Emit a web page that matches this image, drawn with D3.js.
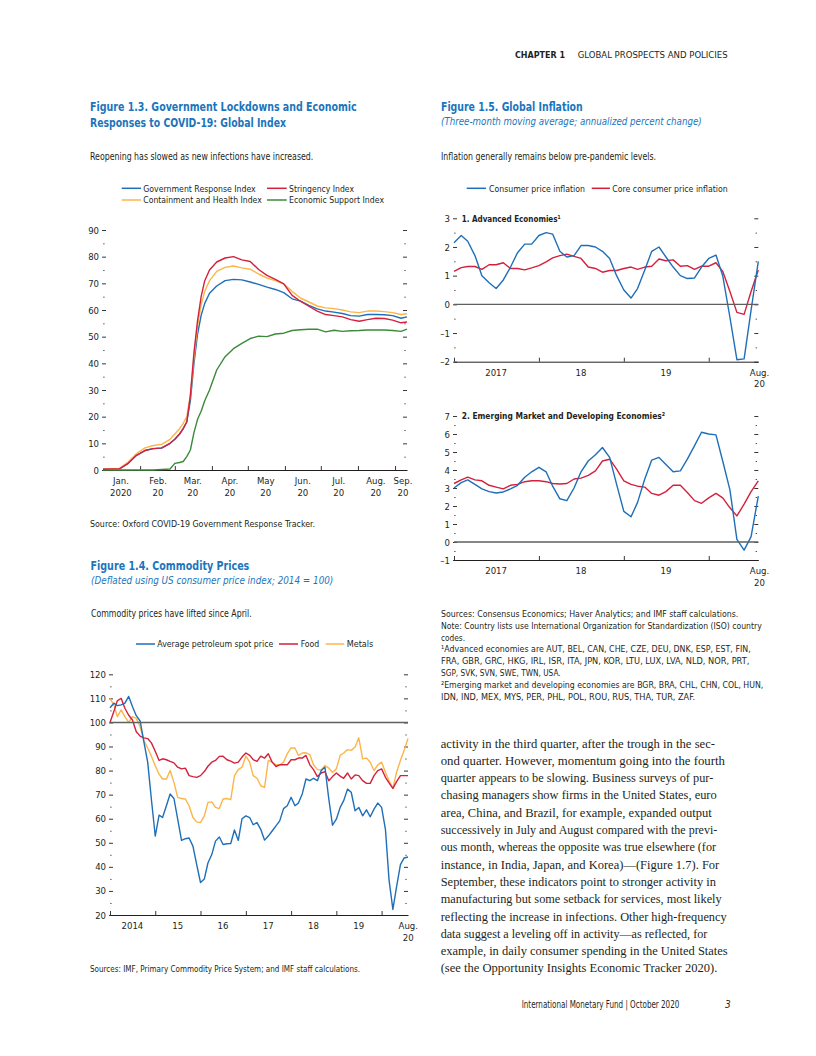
<!DOCTYPE html>
<html><head><meta charset="utf-8">
<script src="https://cdn.jsdelivr.net/npm/d3@7"></script>
<style>body{margin:0;background:#fff}</style>
</head><body>
<svg id="page" width="816" height="1056"></svg>
<script>
// ---------- Figure 1.3 data ----------
const lockdownDates = ["2020-01-01","2020-01-15","2020-01-22","2020-01-29","2020-02-05","2020-02-12","2020-02-19","2020-02-26","2020-03-01","2020-03-05","2020-03-08","2020-03-11","2020-03-14","2020-03-17","2020-03-20","2020-03-23","2020-03-26","2020-03-30","2020-04-05","2020-04-12","2020-04-19","2020-04-26","2020-05-03","2020-05-10","2020-05-17","2020-05-24","2020-05-31","2020-06-07","2020-06-14","2020-06-21","2020-06-28","2020-07-05","2020-07-12","2020-07-19","2020-07-26","2020-08-02","2020-08-09","2020-08-16","2020-08-23","2020-08-30","2020-09-06","2020-09-11"];
const govResponse = [0.3,0.5,2.5,5.5,7.3,8,8.2,10,11.5,13.5,15.5,18,26,40,51,58,62.5,66.3,69,71,71.5,71.3,70.5,69.6,68.6,67.7,66.5,64.2,63.3,61.7,60.4,59.6,59.2,58.7,57.9,57.7,58.3,58.3,58.2,57.9,56.9,57.4];
const stringency = [0.3,0.5,2.5,5.5,7.3,8,8.3,10,11.5,13.5,15.5,18,28,44,56,65,71,75,78,79.5,80,78.8,78.2,75.2,73,71.5,69.8,65.5,63.3,61.4,59.6,58.3,57.9,57.4,56.4,55.8,56.4,56.9,56.8,56.2,55.2,55.5];
const containment = [0.3,0.6,3,6.2,8.3,9.2,9.6,11.5,13.5,15.5,17.5,20,28,42,54,62,67,71,74.5,76,76.5,75.8,75.3,73.5,72,71,69.8,67,64.5,63,61.5,60.8,60.5,60,59.3,59,59.6,59.6,59.4,59,58.3,58.6];
const econSupport = [0,0,0,0,0,0,0.2,0.4,2.5,2.8,3.2,5,7.5,14,19,22,26,30,37.5,42.5,45.5,47.5,49.3,50.2,50,51,51.3,52.3,52.6,52.8,52.8,51.8,52.4,52,52.2,52.3,52.5,52.5,52.5,52.3,52,52.8];
const lockdownMonthLabels = ["Jan.","Feb.","Mar.","Apr.","May","Jun.","Jul.","Aug.","Sep."];
const lockdownYearLabels = ["2020","20","20","20","20","20","20","20","20"];

// ---------- Figure 1.4 data (monthly, Jan 2014 - Aug 2020) ----------
const petroleum = [106.1,108,107,107.3,108,110.8,106.6,102.8,100.6,92,83.5,68,
 52.8,61.5,60.5,65.4,70.3,68.4,59.8,51,51.7,52,48.6,41,
 33.5,35,41.6,45.1,50.7,52.4,49.3,49.6,49.7,55.3,51,60,
 61.2,60.5,57.5,58.4,55.6,51.1,52.8,54.9,57,59.1,64.2,65.4,
 68.9,65.4,66.5,70.3,76.5,75.8,76.8,75.8,80,81.4,68.2,57.3,
 59.8,64.7,67.5,72.3,71,63.3,64.7,61.2,63.7,60.8,64,66.5,
 64.7,55.6,34.6,22.3,31.8,40.9,43.7,44.1];
const food = [100,104.5,109,110,105.9,103,101,96.1,94.3,93.6,93.3,91.5,
 88,84.2,84.9,84.5,83.8,83.2,81.4,80.7,81,77.9,77.5,77.2,
 77.9,79.6,81.8,83.5,84.2,85.9,86,84.5,83.9,83.1,83.5,85.6,
 87.3,86.3,84.6,83.8,86,85.2,87,83.5,81.7,82.4,82.4,82.4,
 84.5,84.5,85.2,85.2,86.3,82.4,80.4,77.5,79,79.6,75.8,77.5,
 79,77.7,76.8,79,76.5,78.2,77.9,75.8,74.7,74.7,77.9,80,
 80.7,77.2,74.9,72.6,75.4,77.9,77.9,77.9];
const metals = [110,107.3,102.4,105.2,102.4,100,102.4,101.7,98.2,92.6,89.4,86,
 82,78.5,76.5,76.5,80,75.1,68.9,68.4,68.2,65.4,60.5,58.7,
 58.4,61.2,66.8,67,64.7,64.2,68.2,68.4,67.9,77.9,80.4,81.4,
 86,83.5,77.9,76.8,73.7,73,84.2,83.5,82.4,82.4,83.5,87,
 89.4,89.4,86.3,87.3,87.4,86.6,82.4,80.4,80.3,82.1,81,79.3,
 80.7,86.3,87.3,88.7,88.4,89.8,93.6,84.9,85.2,83.5,80,82.4,
 83.5,79.3,75.8,72.6,79.3,84.2,88.4,93.3];
const commodityYearLabels = ["2014","15","16","17","18","19"];

// ---------- Figure 1.5 data (monthly, Jan 2017 - Aug 2020) ----------
const aeCPI = [2.15,2.4,2.2,1.7,1.0,0.75,0.55,0.85,1.3,1.8,2.1,2.1,
 2.4,2.5,2.45,1.85,1.65,1.7,2.05,2.05,2.0,1.85,1.6,1.0,
 0.5,0.22,0.55,1.2,1.85,2.0,1.65,1.3,1.0,0.9,0.92,1.3,
 1.6,1.72,1.0,-0.45,-1.93,-1.9,-0.2,1.5];
const aeCore = [1.15,1.28,1.32,1.32,1.22,1.38,1.38,1.45,1.25,1.25,1.2,1.27,
 1.35,1.48,1.62,1.7,1.75,1.67,1.6,1.3,1.25,1.12,1.18,1.18,
 1.25,1.3,1.22,1.3,1.33,1.58,1.52,1.55,1.33,1.35,1.22,1.33,
 1.33,1.45,1.15,0.45,-0.28,-0.35,0.45,1.2];
const emCPI = [3.0,3.3,3.45,3.2,2.95,2.8,2.72,2.78,2.95,3.15,3.6,3.9,
 4.15,3.9,3.1,2.4,2.3,3.0,3.9,4.5,4.85,5.25,4.7,3.2,
 1.7,1.4,2.2,3.5,4.55,4.7,4.3,3.9,3.95,4.6,5.35,6.1,
 6.0,5.95,4.5,2.9,0.15,-0.45,0.3,2.55];
const emCore = [3.25,3.45,3.6,3.45,3.4,3.15,3.05,2.95,3.15,3.2,3.35,3.4,
 3.4,3.35,3.25,3.22,3.25,3.5,3.55,3.7,3.95,4.5,4.6,4.05,
 3.4,3.2,3.1,3.05,2.7,2.6,2.8,3.15,3.15,2.75,2.3,2.15,
 2.45,2.7,2.45,1.9,1.45,2.1,2.8,3.4];
const inflationYearLabels = ["2017","18","19"];

// ---------- styling ----------
const SANS = "'Liberation Sans Narrow','Arial Narrow','DejaVu Sans Condensed',Roboto,sans-serif";
const SERIF = "'Liberation Serif','DejaVu Serif',serif";
const BLUE = "#1f6fb8", RED = "#d3213d", ORANGE = "#fcb548", GREEN = "#3b8a3a", TITLE = "#1b75bc", INK = "#231f20";
const parse = d3.timeParse("%Y-%m-%d");

const svg = d3.select("#page");
svg.append("rect").attr("width", 816).attr("height", 1056).attr("fill", "#fff");

function txt(x, y, s, o = {}) {
  const t = svg.append("text").attr("x", x).attr("y", y).text(s)
    .attr("font-family", o.family || SANS).attr("font-size", o.size || 9.5)
    .attr("fill", o.fill || INK);
  if (o.weight) t.attr("font-weight", o.weight);
  if (o.style) t.attr("font-style", o.style);
  if (o.anchor) t.attr("text-anchor", o.anchor);
  if (o.ls) t.attr("letter-spacing", o.ls);
  if (o.width) t.attr("textLength", o.width).attr("lengthAdjust", "spacingAndGlyphs");
  return t;
}
function legendItem(x1, x2, y, color, label, tx, tw) {
  svg.append("line").attr("x1", x1).attr("x2", x2).attr("y1", y).attr("y2", y)
    .attr("stroke", color).attr("stroke-width", 1.5);
  txt(tx, y + 3.3, label, { size: 9.5, width: tw });
}
function yAxes(y, left, right, majors, minors, fmt) {
  const g = svg.append("g");
  g.append("g").attr("transform", `translate(${left + 3},0)`)
    .call(d3.axisLeft(y).tickValues(majors).tickSize(4).tickPadding(3).tickFormat(fmt));
  g.append("g").attr("transform", `translate(${left + 1.5},0)`)
    .call(d3.axisLeft(y).tickValues(minors).tickSize(1.2).tickFormat(""));
  g.append("g").attr("transform", `translate(${right - 4},0)`)
    .call(d3.axisRight(y).tickValues(majors).tickSize(4).tickFormat(""));
  g.append("g").attr("transform", `translate(${right - 2.6},0)`)
    .call(d3.axisRight(y).tickValues(minors).tickSize(1.2).tickFormat(""));
  g.selectAll(".domain").remove();
  g.selectAll("line").attr("stroke", INK).attr("stroke-width", 0.9);
  g.selectAll("text").attr("font-family", SANS).attr("font-size", 9.5).attr("fill", INK);
}
function xAxis(x, yPos, tickVals) {
  const g = svg.append("g").attr("transform", `translate(0,${yPos})`)
    .call(d3.axisBottom(x).tickValues(tickVals).tickSize(-4).tickSizeOuter(0).tickFormat(""));
  g.select(".domain").attr("stroke", INK).attr("stroke-width", 1);
  g.selectAll(".tick line").attr("stroke", INK).attr("stroke-width", 0.9);
}
function drawLine(data, x, y, color) {
  svg.append("path").datum(data)
    .attr("fill", "none").attr("stroke", color).attr("stroke-width", 1.4)
    .attr("stroke-linejoin", "round")
    .attr("d", d3.line().x(d => x(d.date)).y(d => y(d.v)));
}
function hRule(x, y, v) {
  svg.append("line").attr("x1", x.range()[0]).attr("x2", x.range()[1])
    .attr("y1", y(v)).attr("y2", y(v)).attr("stroke", "#5f5f5f").attr("stroke-width", 1.4);
}
const dash = d => (d < 0 ? "\u2013" + Math.abs(d) : String(d));

// ---------- header ----------
txt(515, 57.5, "CHAPTER 1", { size: 9.5, weight: "bold", width: 50 });
txt(577.7, 57.5, "GLOBAL PROSPECTS AND POLICIES", { size: 9.5, width: 150 });

// ================= Figure 1.3 =================
txt(90, 111, "Figure 1.3.  Government Lockdowns and Economic", { size: 12.5, weight: "bold", fill: TITLE, width: 266.7 });
txt(90, 126.7, "Responses to COVID-19: Global Index", { size: 12.5, weight: "bold", fill: TITLE, width: 196 });
txt(90, 160, "Reopening has slowed as new infections have increased.", { size: 10, width: 223.3 });
legendItem(121.7, 141, 188.3, BLUE, "Government Response Index", 143.3, 112.4);
legendItem(267, 286.7, 188.3, RED, "Stringency Index", 289, 65);
legendItem(121.7, 141, 200, ORANGE, "Containment and Health Index", 143.3, 118.4);
legendItem(267, 286.7, 200, GREEN, "Economic Support Index", 289, 95);

{
  const dates = lockdownDates.map(parse);
  const x = d3.scaleTime().domain([parse("2020-01-01"), parse("2020-09-11")]).range([103, 407]);
  const y = d3.scaleLinear().domain([0, 90]).range([470, 230]);
  yAxes(y, 103, 407, d3.range(0, 91, 10), d3.range(5, 90, 10), d => d);
  const monthStarts = d3.range(1, 9).map(m => new Date(2020, m, 1));
  xAxis(x, 470, monthStarts);
  lockdownMonthLabels.forEach((lab, i) => {
    const cx = i < 8 ? x(new Date(2020, i, 16)) : 403;
    txt(cx, 484, lab, { anchor: "middle" });
    txt(cx, 495.5, lockdownYearLabels[i], { anchor: "middle" });
  });
  const mk = arr => arr.map((v, i) => ({ date: dates[i], v }));
  drawLine(mk(econSupport), x, y, GREEN);
  drawLine(mk(govResponse), x, y, BLUE);
  drawLine(mk(containment), x, y, ORANGE);
  drawLine(mk(stringency), x, y, RED);
}
txt(90, 526.8, "Source: Oxford COVID-19 Government Response Tracker.", { size: 9.5, width: 225 });

// ================= Figure 1.4 =================
txt(90.5, 570, "Figure 1.4.  Commodity Prices", { size: 12.5, weight: "bold", fill: TITLE, width: 158.8 });
txt(91, 584, "(Deflated using US consumer price index; 2014 = 100)", { size: 11, style: "italic", fill: TITLE, width: 242.3 });
txt(91, 616.8, "Commodity prices have lifted since April.", { size: 10, width: 160.7 });
legendItem(136, 155, 644, BLUE, "Average petroleum spot price", 157.3, 116);
legendItem(279, 298, 644, RED, "Food", 300.7, 18.6);
legendItem(325.7, 344.3, 644, ORANGE, "Metals", 346.7, 26.6);
{
  const months = d3.timeMonths(new Date(2014, 0, 1), new Date(2020, 7, 2));
  const x = d3.scaleTime().domain([months[0], months[months.length - 1]]).range([110, 408]);
  const y = d3.scaleLinear().domain([20, 120]).range([915, 674.3]);
  yAxes(y, 110, 408, d3.range(20, 121, 10), d3.range(25, 120, 10), d => d);
  xAxis(x, 915, d3.range(2014, 2021).map(yr => new Date(yr, 0, 1)));
  commodityYearLabels.forEach((lab, i) => txt(x(new Date(2014 + i, 6, 1)), 929, lab, { anchor: "middle" }));
  txt(408.3, 929, "Aug.", { anchor: "middle" });
  txt(408.3, 940.5, "20", { anchor: "middle" });
  const mk = arr => arr.map((v, i) => ({ date: months[i], v }));
  drawLine(mk(metals), x, y, ORANGE);
  drawLine(mk(food), x, y, RED);
  drawLine(mk(petroleum), x, y, BLUE);
  hRule(x, y, 100);
}
txt(90, 971.5, "Sources: IMF, Primary Commodity Price System; and IMF staff calculations.", { size: 9.5, width: 270 });

// ================= Figure 1.5 =================
txt(441, 111, "Figure 1.5.  Global Inflation", { size: 12.5, weight: "bold", fill: TITLE, width: 141.7 });
txt(441, 124.5, "(Three-month moving average; annualized percent change)", { size: 11, style: "italic", fill: TITLE, width: 260.7 });
txt(441, 160, "Inflation generally remains below pre-pandemic levels.", { size: 10, width: 215 });
legendItem(466.7, 486, 188.3, BLUE, "Consumer price inflation", 489, 96);
legendItem(591.7, 610, 188.3, RED, "Core consumer price inflation", 612.3, 115.4);
{
  const months = d3.timeMonths(new Date(2017, 0, 1), new Date(2020, 7, 2));
  const x = d3.scaleTime().domain([months[0], months[months.length - 1]]).range([454, 758.3]);
  const ticks = d3.range(2017, 2021).map(yr => new Date(yr, 0, 1));
  const mk = arr => arr.map((v, i) => ({ date: months[i], v }));

  // Panel 1
  const y1 = d3.scaleLinear().domain([-2, 3]).range([361.7, 218.3]);
  yAxes(y1, 454, 758.3, d3.range(-2, 4, 1), [-1.5, -0.5, 0.5, 1.5, 2.5], dash);
  xAxis(x, 361.7, ticks);
  txt(461.7, 221.6, "1. Advanced Economies\u00B9", { size: 9.5, weight: "bold", width: 99 });
  inflationYearLabels.forEach((lab, i) => txt(x(new Date(2017 + i, 6, 1)), 375.5, lab, { anchor: "middle" }));
  txt(759.5, 375.5, "Aug.", { anchor: "middle" });
  txt(759.5, 386.5, "20", { anchor: "middle" });
  drawLine(mk(aeCore), x, y1, RED);
  drawLine(mk(aeCPI), x, y1, BLUE);
  hRule(x, y1, 0);

  // Panel 2
  const y2 = d3.scaleLinear().domain([-1, 7]).range([560, 416]);
  yAxes(y2, 454, 758.3, d3.range(-1, 8, 1), d3.range(-0.5, 7, 1), dash);
  xAxis(x, 560, ticks);
  txt(461.7, 419.3, "2. Emerging Market and Developing Economies\u00B2", { size: 9.5, weight: "bold", width: 203.3 });
  inflationYearLabels.forEach((lab, i) => txt(x(new Date(2017 + i, 6, 1)), 574, lab, { anchor: "middle" }));
  txt(759.5, 574, "Aug.", { anchor: "middle" });
  txt(759.5, 585.5, "20", { anchor: "middle" });
  drawLine(mk(emCore), x, y2, RED);
  drawLine(mk(emCPI), x, y2, BLUE);
  hRule(x, y2, 0);
}

// notes
const notes = [
  ["Sources: Consensus Economics; Haver Analytics; and IMF staff calculations.", 297.3],
  ["Note: Country lists use International Organization for Standardization (ISO) country", 320.7],
  ["codes.", 24],
  ["\u00B9Advanced economies are AUT, BEL, CAN, CHE, CZE, DEU, DNK, ESP, EST, FIN,", 309.7],
  ["FRA, GBR, GRC, HKG, IRL, ISR, ITA, JPN, KOR, LTU, LUX, LVA, NLD, NOR, PRT,", 308.3],
  ["SGP, SVK, SVN, SWE, TWN, USA.", 119.7],
  ["\u00B2Emerging market and developing economies are BGR, BRA, CHL, CHN, COL, HUN,", 322.3],
  ["IDN, IND, MEX, MYS, PER, PHL, POL, ROU, RUS, THA, TUR, ZAF.", 254]
];
notes.forEach(([s, w], i) => txt(441, 617 + i * 11.8, s, { size: 9.3, width: w }));

// body text
const body = [
  ["activity in the third quarter, after the trough in the sec-", 274.3],
  ["ond quarter. However, momentum going into the fourth", 284.3],
  ["quarter appears to be slowing. Business surveys of pur-", 272.6],
  ["chasing managers show firms in the United States, euro", 276],
  ["area, China, and Brazil, for example, expanded output", 271],
  ["successively in July and August compared with the previ-", 276.6],
  ["ous month, whereas the opposite was true elsewhere (for", 275.3],
  ["instance, in India, Japan, and Korea)\u2014(Figure 1.7). For", 278.6],
  ["September, these indicators point to stronger activity in", 275.3],
  ["manufacturing but some setback for services, most likely", 281],
  ["reflecting the increase in infections. Other high-frequency", 286],
  ["data suggest a leveling off in activity\u2014as reflected, for", 266.6],
  ["example, in daily consumer spending in the United States", 287],
  ["(see the Opportunity Insights Economic Tracker 2020).", 276.6]
];
body.forEach(([s, w], i) => txt(440.7, 747.5 + i * 17.3, s, { size: 13, family: SERIF, width: w }));

// footer
txt(521.7, 1007.5, "International Monetary Fund | October 2020", { size: 10, width: 157.6 });
txt(725, 1007.5, "3", { size: 10, style: "italic" });
</script>
</body></html>
